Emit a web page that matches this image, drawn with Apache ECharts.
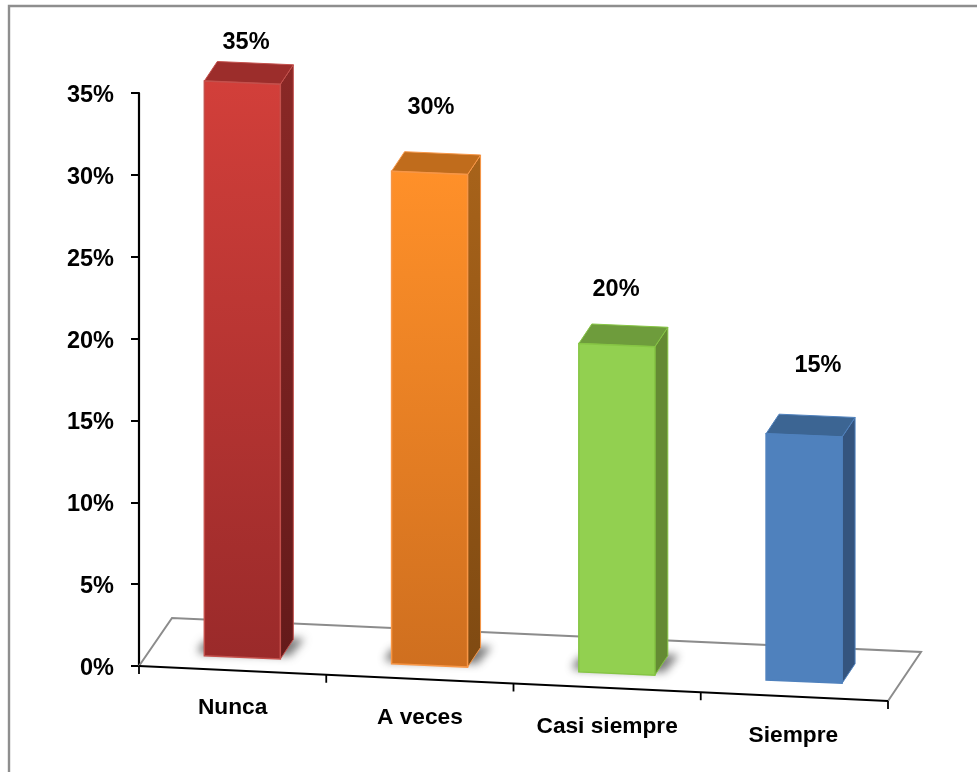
<!DOCTYPE html>
<html>
<head>
<meta charset="utf-8">
<style>html,body{margin:0;padding:0;background:#fff}#c{width:977px;height:772px}</style>
<script src="https://cdn.jsdelivr.net/npm/echarts@6/dist/echarts.min.js"></script>
</head>
<body>
<div id="c"></div>
<script>
var categories = ['Nunca', 'A veces', 'Casi siempre', 'Siempre'];
var values = [35, 30, 20, 15];
var labelShift = [[13.4, -50], [11.1, -67], [8.9, -49], [23.6, -55]];
var faces = [
  {front: ['#d23f3a', '#9a2a2a'], edge: '#c4504c', side: ['#8a2826', '#641a1a'], top: '#9c2d2b', shadow: true},
  {front: ['#ff9029', '#cf6f1f'], edge: '#f79646', side: ['#a8631a', '#7f4a12'], top: '#c06c1c', shadow: true},
  {front: ['#92d050', '#92d050'], edge: '#86c544', side: ['#648a33', '#648a33'], top: '#6e9c3c', shadow: true},
  {front: ['#4f81bd', '#4f81bd'], edge: '#4f81bd', side: ['#34547e', '#34547e'], top: '#3c6593', shadow: false}
];
var FONT = '"Liberation Sans", Arial, sans-serif';
var TILT = 0.0467, LABEL_TILT = 0.05, BAR_TILT = 0.0432, LIFT = 13.1, BAR_W = 76, DX = 13, DY = -19.5, OFF = 3000;
var grad = function (c) {
  return new echarts.graphic.LinearGradient(0, 0, 0, 1, [{offset: 0, color: c[0]}, {offset: 1, color: c[1]}]);
};
var poly = function (pts, style) {
  return {type: 'polygon', shape: {points: pts}, style: style};
};
var seg = function (pts, color, w) {
  return {type: 'polyline', shape: {points: pts}, style: {fill: 'none', stroke: color, lineWidth: w}};
};

function renderFloor(params, api) {
  var o = api.coord([0, 0]);
  var band = api.size([1, 0])[0];
  var x0 = o[0] - band / 2, y0 = o[1];
  var x1 = x0 + band * categories.length, y1 = y0 + (x1 - x0) * TILT;
  var kids = [];
  kids.push(seg([[x0, y0], [x0 + 33, y0 - 48], [x1 + 33, y1 - 49], [x1, y1]], '#8c8c8c', 2));
  kids.push(seg([[x0, y0], [x1, y1]], '#000', 2.2));
  for (var i = 0; i <= categories.length; i++) {
    var tx = x0 + band * i, ty = y0 + band * i * TILT;
    kids.push(seg([[tx, ty], [tx, ty + 8]], '#000', 1.8));
  }
  return {type: 'group', children: kids};
}

function renderBars(params, api) {
  var i = api.value(0), v = api.value(1);
  var c0 = api.coord([i, 0]), cv = api.coord([i, v]);
  var band = api.size([1, 0])[0];
  var axisLeft = c0[0] - band * (i + 0.5);
  var xl = c0[0] - 28.3, xr = xl + BAR_W;
  var h = (c0[1] - cv[1]) * 1.003;
  var bl = c0[1] + (xl - axisLeft) * BAR_TILT - LIFT;
  var br = bl + BAR_W * BAR_TILT;
  var tl = bl - h, tr = br - h;
  var f = faces[i];
  var kids = [];
  if (f.shadow) {
    var sp = [[xl - 7, bl - 5], [xl, bl - 15], [xr + 16, br - 21], [xr + 24, br - 20], [xr + 10, br - 3], [xl - 3, bl - 2]];
    kids.push(poly(sp.map(function (p) { return [p[0] - OFF, p[1]]; }),
      {fill: '#000', shadowBlur: 9, shadowColor: 'rgba(70,70,70,0.7)', shadowOffsetX: OFF}));
  }
  kids.push(poly([[xr, tr], [xr + DX, tr + DY], [xr + DX, br + DY], [xr, br]],
    {fill: grad(f.side), stroke: f.edge, lineWidth: 1}));
  kids.push(poly([[xl, tl], [xl + DX, tl + DY], [xr + DX, tr + DY], [xr, tr]],
    {fill: f.top, stroke: f.edge, lineWidth: 1}));
  kids.push(poly([[xl, tl], [xr, tr], [xr, br], [xl, bl]],
    {fill: grad(f.front), stroke: f.edge, lineWidth: 1.5}));
  return {type: 'group', children: kids};
}

function renderText(params, api) {
  var i = api.value(0), v = api.value(1);
  var c0 = api.coord([i, 0]), cv = api.coord([i, v]);
  var band = api.size([1, 0])[0];
  return {type: 'group', children: [
    {type: 'text', x: cv[0] + labelShift[i][0], y: cv[1] + labelShift[i][1],
      style: {text: v + '%', font: 'bold 23.5px ' + FONT, fill: '#000', align: 'center', verticalAlign: 'middle'}},
    {type: 'text', x: c0[0] - (i === 3 ? 1 : 0), y: c0[1] + band * (i + 0.5) * LABEL_TILT + 37.2,
      style: {text: categories[i], font: 'bold 22.7px ' + FONT, fill: '#000', align: 'center', verticalAlign: 'middle'}}
  ]};
}

var seriesData = values.map(function (v, i) { return [i, v]; });
var chart = echarts.init(document.getElementById('c'), null, {renderer: 'canvas'});
chart.setOption({
  animation: false,
  backgroundColor: '#fff',
  grid: {left: 139, top: 93, width: 749, height: 573, containLabel: false},
  graphic: [{type: 'polyline', shape: {points: [[9, 772], [9, 6], [977, 6]]}, style: {fill: 'none', stroke: '#8e8e8e', lineWidth: 2.4}, silent: true}],
  xAxis: {type: 'category', data: categories, show: false},
  yAxis: {
    type: 'value', min: 0, max: 35, interval: 5,
    axisLine: {show: true, lineStyle: {color: '#000', width: 2.2}},
    axisTick: {show: true, length: 8, lineStyle: {color: '#000', width: 2}},
    splitLine: {show: false},
    axisLabel: {formatter: '{value}%', margin: 25, color: '#000', fontFamily: 'Liberation Sans', fontWeight: 'bold', fontSize: 23.5, verticalAlign: 'top', lineHeight: 5}
  },
  series: [
    {type: 'custom', name: 'floor', data: [[0, 0]], renderItem: renderFloor, clip: false, silent: true, z: 1},
    {type: 'custom', name: 'bars', data: seriesData, renderItem: renderBars, clip: false, silent: true, z: 2},
    {type: 'custom', name: 'labels', data: seriesData, renderItem: renderText, clip: false, silent: true, z: 3}
  ]
});
</script>
</body>
</html>
